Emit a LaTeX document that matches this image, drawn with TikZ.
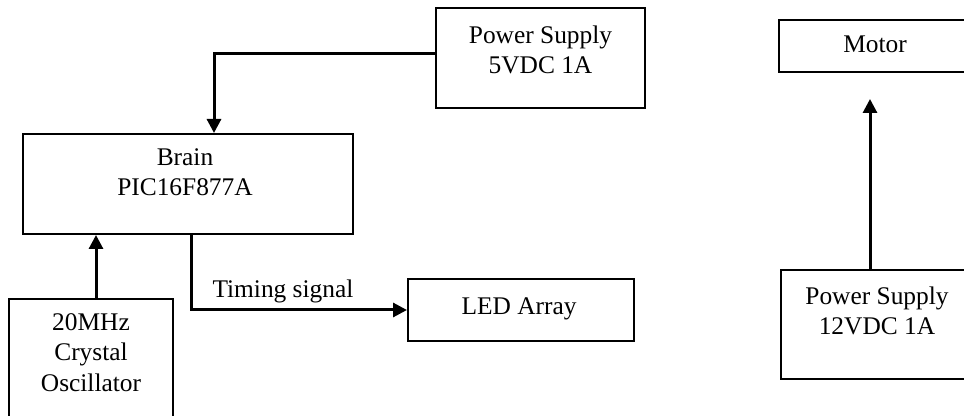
\documentclass[tikz,border=0pt]{standalone}
\usepackage{fontspec}
\setmainfont{Liberation Serif}
\usetikzlibrary{positioning,calc,arrows.meta}

\begin{document}
\begin{tikzpicture}[
    x=0.5pt, y=-0.5pt,
    blockbox/.style={rectangle, draw=black, fill=white, line width=1pt,
                     anchor=north west, inner sep=0pt},
    blocktext/.style={anchor=north, align=center, inner sep=0pt,
                      font=\fontsize{12.7}{15.3}\selectfont},
    signallabel/.style={anchor=base west, inner sep=0pt,
                        font=\fontsize{12.7}{15.3}\selectfont},
    arrow/.style={-{Triangle[length=7pt,width=7pt]}, line width=1.5pt, draw=black}
]
\useasboundingbox (0,0) rectangle (964,416);
\clip (0,0) rectangle (964,416);

% Power Supply 5V
\node[blockbox, minimum width=104.5pt, minimum height=50pt] (ps5) at (435,7) {};
\node[blocktext] (ps5text) at ($(ps5.north)+(0,18)$) {Power Supply\\5VDC 1A};

% Brain
\node[blockbox, minimum width=165pt, minimum height=50pt] (brain) at (22,133) {};
\node[blocktext] (braintext) at ($(brain.north)+(-3,15)$) {Brain\\PIC16F877A};

% Crystal
\node[blockbox, minimum width=82pt, minimum height=68pt] (crystal) at (8,298) {};
\node[blocktext] (crystaltext) at ($(crystal.north)+(0,15)$) {20MHz\\Crystal\\Oscillator};

% LED Array
\node[blockbox, minimum width=113pt, minimum height=31pt] (led) at (407,278) {};
\node[blocktext] (ledtext) at ($(led.north)+(-2,19)$) {LED Array};

% Motor
\node[blockbox, minimum width=96pt, minimum height=26pt] (motor) at (778,19) {};
\node[blocktext] (motortext) at ($(motor.north)+(0,16)$) {Motor};

% Power Supply 12V
\node[blockbox, minimum width=96pt, minimum height=54.5pt] (ps12) at (780,269) {};
\node[blocktext] (ps12text) at ($(ps12.north)+(0,17)$) {Power Supply\\12VDC 1A};

% connectors
\draw[arrow] ([yshift=2pt]ps5.west) -| ([xshift=13pt]brain.north);
\draw[arrow] ([xshift=2.5pt]crystal.north) -- ([xshift=2.5pt]crystal.north |- brain.south);
\draw[arrow] ([xshift=1.5pt]brain.south) |-
    node[signallabel, pos=0.5, xshift=10pt, yshift=6pt] {Timing signal} (led.west);
\coordinate (motorin) at ($(motor.south)+(-5,26)$);
\draw[arrow] (ps12.north -| motorin) -- (motorin);

\end{tikzpicture}
\end{document}
